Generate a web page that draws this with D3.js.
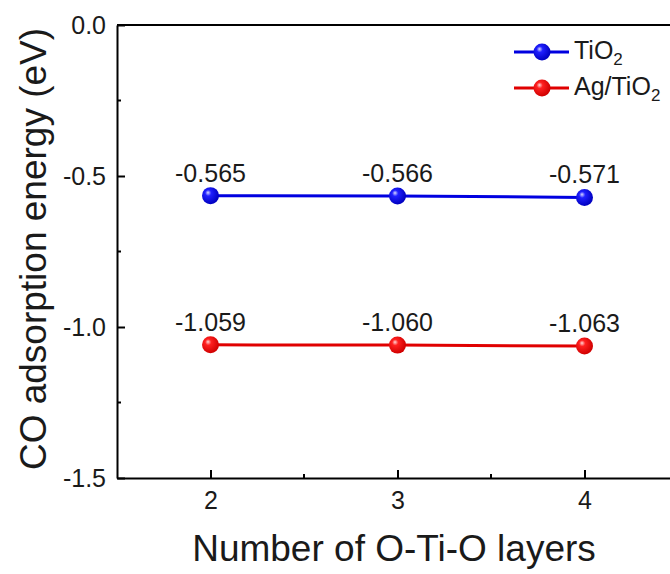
<!DOCTYPE html>
<html>
<head>
<meta charset="utf-8">
<script src="https://cdn.jsdelivr.net/npm/d3@7"></script>
<style>
  html, body { margin: 0; padding: 0; background: #fff; }
  svg { display: block; }
  text { font-family: "Liberation Sans", Arial, sans-serif; fill: #1a1a1a; }
</style>
</head>
<body>
<svg id="chart" width="670" height="574"></svg>
<script>
// ---- data ----
const layers = [2, 3, 4];
const tio2 = [-0.565, -0.566, -0.571];
const agTio2 = [-1.059, -1.060, -1.063];
const tio2Labels = ["-0.565", "-0.566", "-0.571"];
const agTio2Labels = ["-1.059", "-1.060", "-1.063"];
const yTicks = [0.0, -0.5, -1.0, -1.5];
const yMinorTicks = [-0.25, -0.75, -1.25];
const xTicks = [2, 3, 4];
const xMinorTicks = [2.5, 3.5];
const seriesNames = ["TiO", "Ag/TiO"];

const svg = d3.select("#chart");
const plotLeft = 117, plotTop = 25, plotBottom = 478;
const x = d3.scaleLinear().domain([1.5, 4.5]).range([plotLeft, plotLeft + 3 * 187]);
const y = d3.scaleLinear().domain([-1.5, 0]).range([plotBottom, plotTop]);

// gradients for sphere markers
const defs = svg.append("defs");
function sphere(id, light, mid, dark) {
  const g = defs.append("radialGradient").attr("id", id)
    .attr("cx", "40%").attr("cy", "40%").attr("r", "60%").attr("fx", "35%").attr("fy", "32%");
  g.append("stop").attr("offset", "0%").attr("stop-color", light);
  g.append("stop").attr("offset", "30%").attr("stop-color", mid);
  g.append("stop").attr("offset", "100%").attr("stop-color", dark);
}
sphere("gBlue", "#d8d8ff", "#2020ff", "#0000c0");
sphere("gRed", "#ffd8d8", "#ff2020", "#d00000");

const series = [
  { vals: tio2, labels: tio2Labels, color: "#0000e0", grad: "url(#gBlue)" },
  { vals: agTio2, labels: agTio2Labels, color: "#e00000", grad: "url(#gRed)" }
];

// frame (top and right spines)
svg.append("line").attr("x1", x(1.5)).attr("x2", x(4.5)).attr("y1", y(0)).attr("y2", y(0))
  .attr("stroke", "#000").attr("stroke-width", 2);
svg.append("line").attr("x1", x(4.5)).attr("x2", x(4.5)).attr("y1", y(0)).attr("y2", y(-1.5))
  .attr("stroke", "#000").attr("stroke-width", 2);

// axes
const yAxis = d3.axisLeft(y).tickValues(yTicks)
  .tickFormat(d => (d === 0 ? "0.0" : d3.format(".1f")(d).replace("−", "-")))
  .tickSizeInner(-8).tickSizeOuter(0).tickPadding(11);
const gy = svg.append("g").attr("transform", `translate(${plotLeft},0)`).call(yAxis);
gy.selectAll(".tick text").attr("font-size", 25);
gy.selectAll(".tick line").attr("stroke-width", 2);
gy.select(".domain").attr("stroke-width", 2);
gy.selectAll(".minor").data(yMinorTicks).enter().append("line")
  .attr("x1", 0).attr("x2", 4).attr("y1", d => y(d)).attr("y2", d => y(d))
  .attr("stroke", "#000").attr("stroke-width", 2);

const xAxis = d3.axisBottom(x).tickValues(xTicks).tickFormat(d3.format("d"))
  .tickSizeInner(-8).tickSizeOuter(0).tickPadding(13);
const gx = svg.append("g").attr("transform", `translate(0,${plotBottom})`).call(xAxis);
gx.selectAll(".tick text").attr("font-size", 25);
gx.selectAll(".tick line").attr("stroke-width", 2);
gx.select(".domain").attr("stroke-width", 2);
gx.selectAll(".minor").data(xMinorTicks).enter().append("line")
  .attr("x1", d => x(d)).attr("x2", d => x(d)).attr("y1", 0).attr("y2", -4)
  .attr("stroke", "#000").attr("stroke-width", 2);
svg.selectAll(".domain, .tick line").attr("stroke", "#000");
svg.selectAll(".tick text").attr("fill", "#1a1a1a").attr("font-family", "Liberation Sans, Arial, sans-serif");

// axis titles
svg.append("text").attr("x", 394).attr("y", 561).attr("text-anchor", "middle")
  .attr("font-size", 37).text("Number of O-Ti-O layers");
svg.append("text").attr("transform", "translate(46,249) rotate(-90)").attr("text-anchor", "middle")
  .attr("font-size", 37).text("CO adsorption energy (eV)");

// series
const line = d3.line().x((d, i) => x(layers[i])).y(d => y(d));
series.forEach(s => {
  svg.append("path").datum(s.vals).attr("d", line).attr("fill", "none")
    .attr("stroke", s.color).attr("stroke-width", 3);
  svg.selectAll(null).data(s.vals).enter().append("circle")
    .attr("cx", (d, i) => x(layers[i])).attr("cy", d => y(d)).attr("r", 8.5)
    .attr("fill", s.grad);
  svg.selectAll(null).data(s.vals).enter().append("text")
    .attr("x", (d, i) => x(layers[i])).attr("y", d => y(d) - 14)
    .attr("text-anchor", "middle").attr("font-size", 25)
    .text((d, i) => s.labels[i]);
});

// legend
const legY = [52, 88];
series.forEach((s, i) => {
  const ly = legY[i];
  svg.append("line").attr("x1", 514).attr("x2", 569).attr("y1", ly).attr("y2", ly)
    .attr("stroke", s.color).attr("stroke-width", 3);
  svg.append("circle").attr("cx", 542).attr("cy", ly).attr("r", 8.5).attr("fill", s.grad);
  const t = svg.append("text").attr("x", 574).attr("y", ly + 7).attr("font-size", 25);
  t.append("tspan").text(seriesNames[i]);
  t.append("tspan").attr("font-size", 17).attr("dy", 6).text("2");
});
</script>
</body>
</html>
